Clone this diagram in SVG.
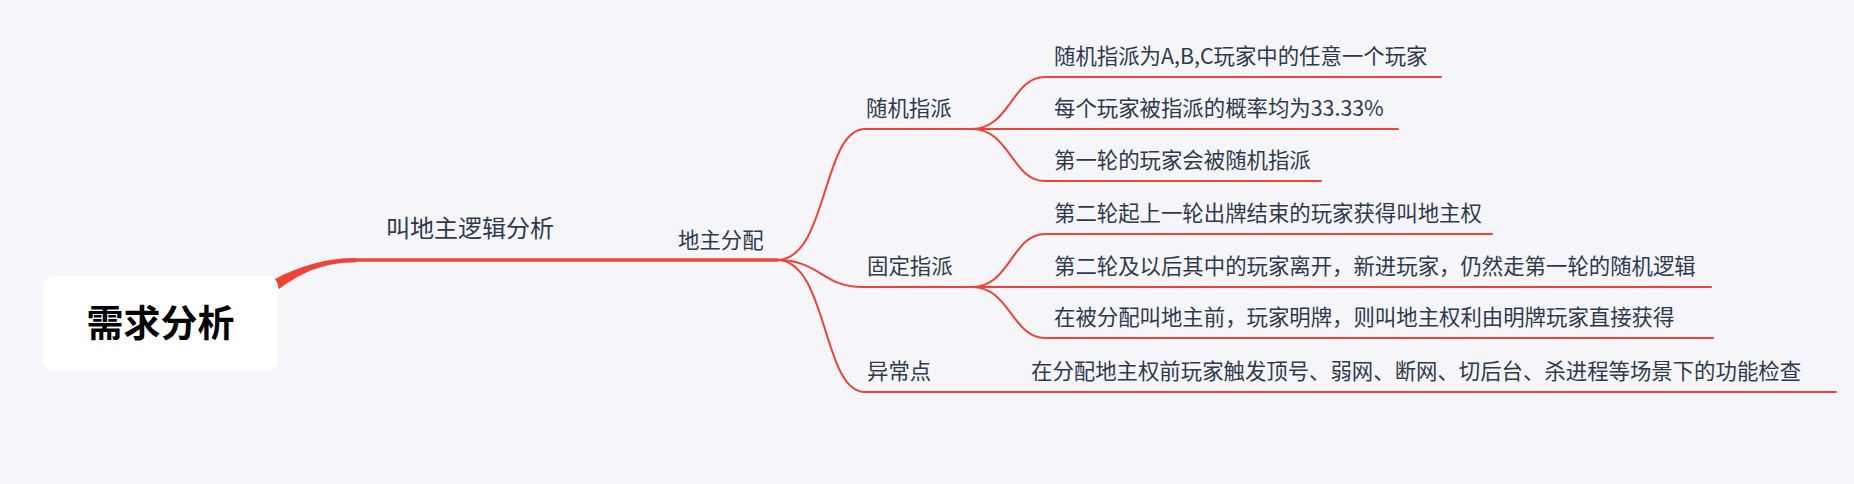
<svg xmlns="http://www.w3.org/2000/svg" width="1854" height="484" viewBox="0 0 1854 484">
<style>
.bg{fill:#F5F5FA}
.ln{fill:none;stroke:#EF4338;stroke-width:2;stroke-linecap:round}
.main{fill:none;stroke:#EF4338;stroke-width:3.5}
.t{font-family:"Noto Sans CJK SC","Noto Sans",sans-serif;fill:#2E3A4C;font-size:21.4px}
.t2{font-family:"Noto Sans CJK SC","Noto Sans",sans-serif;fill:#2E3A4C;font-size:24px}
.root{font-family:"Noto Sans CJK SC","Noto Sans",sans-serif;fill:#000;font-size:37px;font-weight:bold}
</style>
<rect class="bg" x="0" y="0" width="1854" height="484"/>
<g id="connectors">
  <path d="M275,279 C300,266 325,258 356,258 L356,262.5 C326,262.5 305,270 279,289 Z" fill="#EF4338"/>
  <path class="main" d="M354,260 L778,260"/>
  <path class="ln" d="M777,260 C828,260 822,129 865,129 L972,129"/>
  <path class="ln" d="M777,260 C820,260 822,287 862,287 L972,287"/>
  <path class="ln" d="M777,260 C828,260 822,392 865,392 L1836,392"/>
  <path class="ln" d="M972,129 C1010,129 1012,77 1045,77 L1441,77"/>
  <path class="ln" d="M972,129 L1398,129"/>
  <path class="ln" d="M972,129 C1010,129 1012,181 1045,181 L1321,181"/>
  <path class="ln" d="M972,287 C1010,287 1012,234 1045,234 L1492,234"/>
  <path class="ln" d="M972,287 L1711,287"/>
  <path class="ln" d="M972,287 C1010,287 1012,338 1045,338 L1713,338"/>
</g>
<g id="root">
  <rect x="43" y="276" width="235" height="95" rx="11" fill="#FFFFFF"/>
  <text class="root" x="160.5" y="337" text-anchor="middle">需求分析</text>
</g>
<g id="n-jiaodizhu"><text class="t2" x="386" y="237">叫地主逻辑分析</text></g>
<g id="n-dizhufenpei"><text class="t" x="678" y="247.5">地主分配</text></g>
<g id="n-suiji"><text class="t" x="866" y="116">随机指派</text></g>
<g id="n-guding"><text class="t" x="867" y="274">固定指派</text></g>
<g id="n-yichang"><text class="t" x="867" y="379">异常点</text></g>
<g id="l-suiji-1"><text class="t" x="1054" y="64">随机指派为A,B,C玩家中的任意一个玩家</text></g>
<g id="l-suiji-2"><text class="t" x="1054" y="116">每个玩家被指派的概率均为33.33%</text></g>
<g id="l-suiji-3"><text class="t" x="1054" y="168">第一轮的玩家会被随机指派</text></g>
<g id="l-guding-1"><text class="t" x="1054" y="221">第二轮起上一轮出牌结束的玩家获得叫地主权</text></g>
<g id="l-guding-2"><text class="t" x="1054" y="274">第二轮及以后其中的玩家离开，新进玩家，仍然走第一轮的随机逻辑</text></g>
<g id="l-guding-3"><text class="t" x="1054" y="325">在被分配叫地主前，玩家明牌，则叫地主权利由明牌玩家直接获得</text></g>
<g id="l-yichang-1"><text class="t" x="1031" y="379">在分配地主权前玩家触发顶号、弱网、断网、切后台、杀进程等场景下的功能检查</text></g>
</svg>
